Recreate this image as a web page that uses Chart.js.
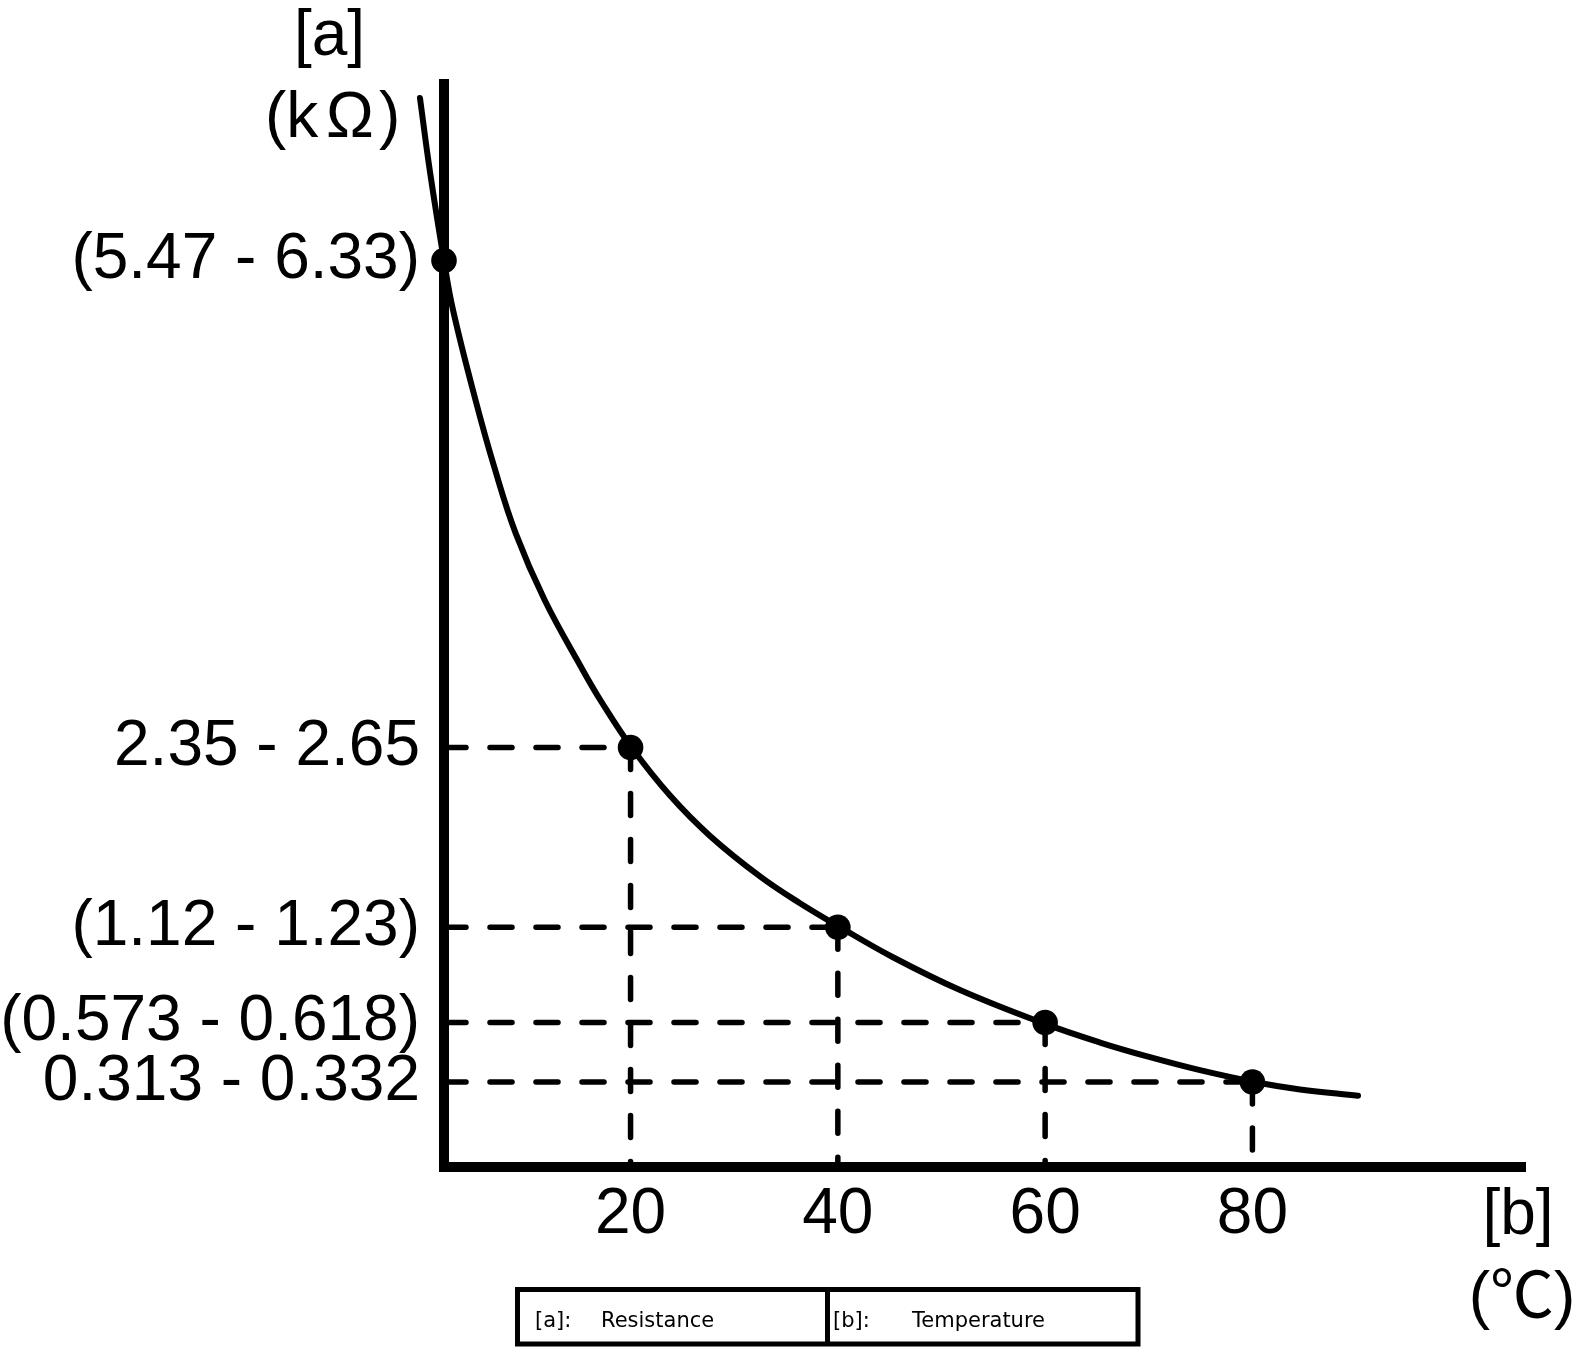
<!DOCTYPE html>
<html>
<head>
<meta charset="utf-8">
<script src="https://cdn.jsdelivr.net/npm/chart.js@4.4.1/dist/chart.umd.min.js"></script>
<style>
  html, body { margin: 0; padding: 0; background: #fff; }
  #wrap { width: 1584px; height: 1364px; position: relative; }
</style>
</head>
<body>
<div id="wrap"><canvas id="c"></canvas></div>
<script>
// ---- Data (schematic: y is relative height on the drawn axis, 0-100) ----
const markerTemps   = [2, 20, 40, 60, 80];              // °C (first point sits on the axis)
const markerHeights = [83.7, 38.7, 22.1, 13.3, 7.8];
const yTickLabels   = ['(5.47 - 6.33)', '2.35 - 2.65', '(1.12 - 1.23)', '(0.573 - 0.618)', '0.313 - 0.332'];
const xTickValues   = [20, 40, 60, 80];

const curveTemps   = [-0.32, 0.65, 2.0, 2.87, 5.04, 6.84, 8.92, 11.71, 15.21, 17.2, 20.14, 23.81, 27.67, 32.49, 36.35, 40.21, 45.32, 51.79, 59.6, 65.3, 70.12, 74.94, 80.44, 84.59, 90.19];
const curveHeights = [98.71, 91.87, 83.69, 79.12, 70.81, 64.65, 58.49, 52.33, 46.17, 42.91, 38.66, 34.27, 30.54, 26.8, 24.32, 22.11, 19.33, 16.3, 13.31, 11.45, 10.1, 8.9, 7.76, 7.12, 6.53];

const yAxisTitle = ['[a]', '(k', 'Ω', ')'];
const xAxisTitle = ['[b]', '(℃)'];
const legendItems = [['[a]:', 'Resistance'], ['[b]:', 'Temperature']];

const X_MIN = 2, X_MAX = 106.3, Y_MIN = 0, Y_MAX = 100;
const MAIN_FONT = "'Liberation Sans', Arial, 'Noto Sans CJK SC', sans-serif";

// ---- Build datasets ----
const curveData = curveTemps.map((t, i) => ({ x: t, y: curveHeights[i] }));
const markerData = markerTemps.map((t, i) => ({ x: t, y: markerHeights[i] }));

const guideStyle = {
  borderColor: '#000', borderWidth: 5.5, borderDash: [22, 24], borderCapStyle: 'round',
  pointRadius: 0, fill: false, order: 3, clip: false, tension: 0
};
const guideSets = [];
for (let i = 1; i < markerTemps.length; i++) {
  guideSets.push(Object.assign({
    data: [{ x: X_MIN, y: markerHeights[i] }, { x: markerTemps[i], y: markerHeights[i] }]
  }, guideStyle));
  guideSets.push(Object.assign({
    data: [{ x: markerTemps[i], y: markerHeights[i] }, { x: markerTemps[i], y: Y_MIN }]
  }, guideStyle));
}

const decorations = {
  id: 'decorations',
  afterDraw(chart) {
    const ctx = chart.ctx;
    ctx.save();
    ctx.fillStyle = '#000';
    ctx.strokeStyle = '#000';
    ctx.textBaseline = 'alphabetic';
    ctx.font = '64px ' + MAIN_FONT;
    // y-axis title
    ctx.textAlign = 'center';
    ctx.fillText(yAxisTitle[0], 329.5, 55);
    ctx.textAlign = 'left';
    ctx.fillText(yAxisTitle[1], 265, 137);
    ctx.fillText(yAxisTitle[2], 326, 137);
    ctx.fillText(yAxisTitle[3], 379, 137);
    // x-axis title
    ctx.textAlign = 'center';
    ctx.fillText(xAxisTitle[0], 1518, 1234);
    ctx.fillText(xAxisTitle[1], 1522, 1317);
    // legend box
    ctx.lineWidth = 5;
    ctx.strokeRect(517.5, 1289.5, 620.5, 54.5);
    ctx.beginPath();
    ctx.moveTo(827.5, 1289.5);
    ctx.lineTo(827.5, 1344);
    ctx.stroke();
    ctx.font = "21px 'DejaVu Sans', sans-serif";
    ctx.textAlign = 'left';
    ctx.fillText(legendItems[0][0], 535, 1327);
    ctx.fillText(legendItems[0][1], 601, 1327);
    ctx.fillText(legendItems[1][0], 833, 1327);
    ctx.fillText(legendItems[1][1], 912, 1327);
    ctx.restore();
  }
};

new Chart(document.getElementById('c'), {
  type: 'line',
  data: {
    datasets: [
      {
        data: markerData, showLine: false, pointRadius: 12.8, pointHoverRadius: 12.8,
        pointBackgroundColor: '#000', pointBorderColor: '#000', pointBorderWidth: 0,
        order: 0, clip: false
      },
      {
        data: curveData, borderColor: '#000', borderWidth: 6, pointRadius: 0,
        tension: 0.4, capBezierPoints: false, borderCapStyle: 'round', borderJoinStyle: 'round',
        fill: false, order: 1, clip: false
      },
      ...guideSets
    ]
  },
  options: {
    responsive: true,
    maintainAspectRatio: false,
    animation: false,
    events: [],
    elements: { line: { capBezierPoints: false } },
    layout: { padding: { top: 84, right: 59, bottom: 0, left: 0 } },
    plugins: { legend: { display: false }, tooltip: { enabled: false }, title: { display: false } },
    scales: {
      x: {
        type: 'linear', bounds: 'data',
        afterDataLimits: s => { s.min = X_MIN; s.max = X_MAX; },
        grid: { display: true, color: 'rgba(0,0,0,0)', drawTicks: false },
        border: { display: true, color: '#000', width: 10 },
        afterBuildTicks: s => { s.ticks = xTickValues.map(v => ({ value: v })); },
        afterFit: s => { s.height = 1364 - 1166.5; },
        ticks: {
          autoSkip: false, maxRotation: 0, color: '#000', padding: 10,
          font: { family: MAIN_FONT, size: 64 },
          callback: v => String(v)
        }
      },
      y: {
        type: 'linear', min: Y_MIN, max: Y_MAX,
        grid: { display: true, color: 'rgba(0,0,0,0)', drawTicks: false },
        border: { display: true, color: '#000', width: 10 },
        afterBuildTicks: s => {
          s.ticks = markerHeights.slice().sort((a, b) => a - b).map(v => ({ value: v }));
        },
        afterFit: s => { s.width = 444; },
        ticks: {
          autoSkip: false, color: '#000', padding: 24,
          font: { family: MAIN_FONT, size: 64 },
          callback: v => yTickLabels[markerHeights.indexOf(v)]
        }
      }
    }
  },
  plugins: [decorations]
});
</script>
</body>
</html>
